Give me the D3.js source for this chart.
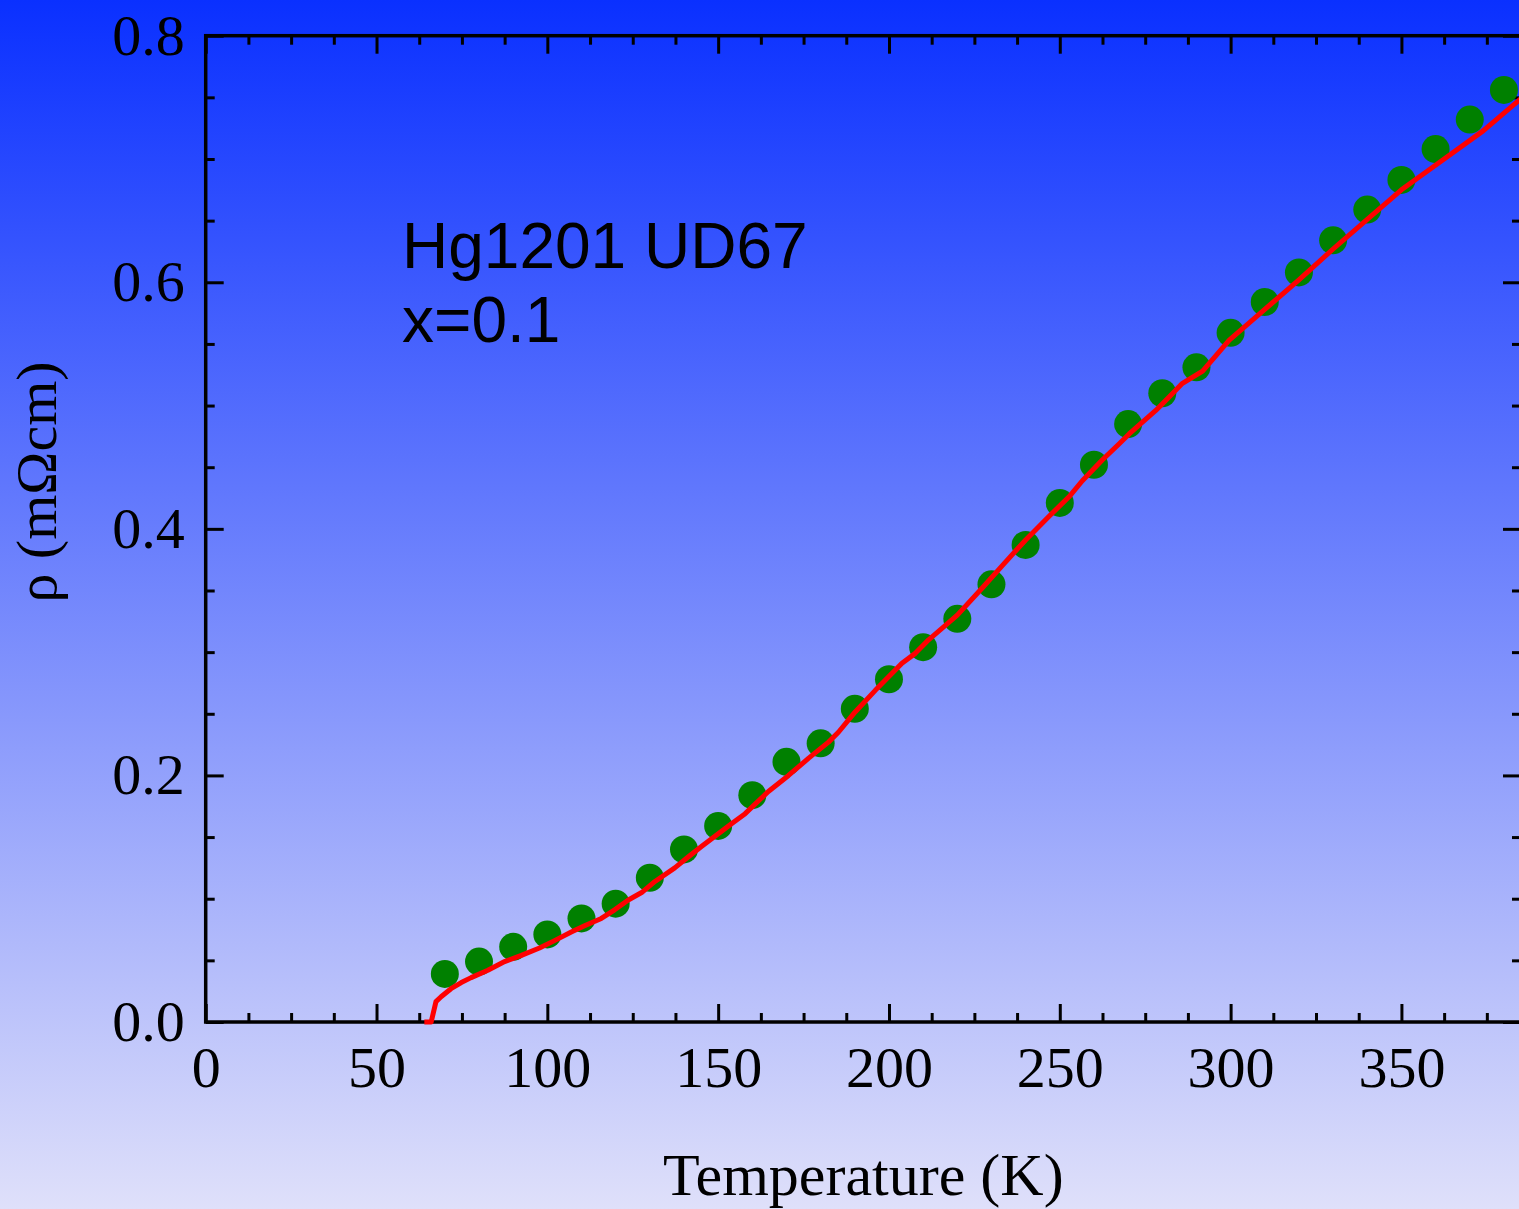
<!DOCTYPE html>
<html>
<head>
<meta charset="utf-8">
<script src="https://cdn.jsdelivr.net/npm/d3@7"></script>
<style>
  html, body { margin: 0; padding: 0; overflow: hidden; }
  svg { display: block; }
</style>
</head>
<body>
<script>
// Measured resistivity points (green markers)
const tempPoints = [70, 80, 90, 100, 110, 120, 130, 140, 150, 160, 170, 180, 190, 200, 210, 220,
  230, 240, 250, 260, 270, 280, 290, 300, 310, 320, 330, 340, 350, 360, 370, 380];
const rhoPoints = [0.039, 0.049, 0.061, 0.071, 0.084, 0.096, 0.117, 0.140, 0.159, 0.184, 0.211, 0.226,
  0.254, 0.278, 0.304, 0.327, 0.355, 0.387, 0.421, 0.452, 0.485, 0.510, 0.531, 0.559, 0.584, 0.608,
  0.634, 0.659, 0.683, 0.708, 0.732, 0.756];

// Continuous resistivity curve (red line)
const tempCurve = [64.0, 66.0, 67.4, 68.9, 71.8, 74.8, 77.7, 82.6, 87.5, 92.4, 97.7, 102.1, 107.0,
  110.9, 115.8, 119.7, 123.7, 127.6, 131.5, 137.3, 141.3, 145.2, 154.0, 157.9, 164.7, 170.6, 176.5,
  182.3, 185.2, 190.1, 196.0, 199.9, 203.8, 207.7, 211.6, 220.0, 227.3, 233.1, 240.0, 246.8, 252.7,
  256.6, 262.5, 267.4, 270.3, 278.1, 282.0, 285.9, 291.8, 299.6, 310, 320, 330, 340, 350, 362, 374, 385];
const rhoCurve = [0, 0, 0.0165, 0.0205, 0.027, 0.032, 0.036, 0.042, 0.049, 0.054, 0.060, 0.066, 0.073,
  0.078, 0.084, 0.091, 0.099, 0.105, 0.114, 0.125, 0.134, 0.1425, 0.161, 0.169, 0.187, 0.200, 0.214,
  0.227, 0.235, 0.2515, 0.269, 0.280, 0.291, 0.299, 0.310, 0.330, 0.352, 0.370, 0.391, 0.410, 0.426,
  0.439, 0.456, 0.469, 0.477, 0.496, 0.507, 0.518, 0.528, 0.553, 0.578, 0.602, 0.627, 0.651, 0.675,
  0.699, 0.723, 0.749];

// Axis ticks
const xMajorTicks = [0, 50, 100, 150, 200, 250, 300, 350];
const yMajorTicks = [0.0, 0.2, 0.4, 0.6, 0.8];

const sampleLines = ["Hg1201 UD67", "x=0.1"];
const xTitle = "Temperature (K)";
const yTitle = "ρ (mΩcm)";

const W = 1519, H = 1209;
const plotLeft = 205.7, plotRight = 1521, plotTop = 35.7, plotBottom = 1022;

const svg = d3.select("body").append("svg").attr("width", W).attr("height", H);

const defs = svg.append("defs");
const grad = defs.append("linearGradient").attr("id", "bg").attr("x1", 0).attr("y1", 0).attr("x2", 0).attr("y2", 1);
grad.append("stop").attr("offset", "0%").attr("stop-color", "#0a30ff");
grad.append("stop").attr("offset", "100%").attr("stop-color", "#dfe0fa");
svg.append("rect").attr("width", W).attr("height", H).attr("fill", "url(#bg)");

const x = d3.scaleLinear().domain([0, 385]).range([plotLeft, plotRight]);
const y = d3.scaleLinear().domain([0, 0.8]).range([plotBottom, plotTop]);

const xMinor = d3.range(0, 385.01, 12.5).filter(v => !xMajorTicks.includes(v));
const yMinor = d3.range(0, 0.8001, 0.05).map(v => +v.toFixed(2)).filter(v => !yMajorTicks.some(t => Math.abs(t - v) < 1e-6));

const serif = "'Liberation Serif', 'Times New Roman', serif";

function styleAxis(g) {
  g.select(".domain").remove();
  g.selectAll(".tick line").attr("stroke", "#000").attr("stroke-width", 3);
}

// Bottom axis: labelled major ticks pointing inward
const gxB = svg.append("g").attr("transform", `translate(0,${plotBottom})`)
  .call(d3.axisBottom(x).tickValues(xMajorTicks).tickSizeInner(-18).tickSizeOuter(0).tickFormat(d3.format("d")));
styleAxis(gxB);
gxB.selectAll(".tick text").attr("font-family", serif).attr("font-size", 58).attr("fill", "#000").attr("y", 24).attr("dy", "0.71em");
svg.append("g").attr("transform", `translate(0,${plotBottom})`)
  .call(d3.axisBottom(x).tickValues(xMinor).tickSize(-9).tickFormat("")).call(styleAxis);

// Top axis
svg.append("g").attr("transform", `translate(0,${plotTop})`)
  .call(d3.axisTop(x).tickValues(xMajorTicks).tickSize(-18).tickFormat("")).call(styleAxis);
svg.append("g").attr("transform", `translate(0,${plotTop})`)
  .call(d3.axisTop(x).tickValues(xMinor).tickSize(-9).tickFormat("")).call(styleAxis);

// Left axis
const gyL = svg.append("g").attr("transform", `translate(${plotLeft},0)`)
  .call(d3.axisLeft(y).tickValues(yMajorTicks).tickSizeInner(-18).tickSizeOuter(0).tickFormat(d3.format(".1f")));
styleAxis(gyL);
gyL.selectAll(".tick text").attr("font-family", serif).attr("font-size", 58).attr("fill", "#000").attr("x", -21);
svg.append("g").attr("transform", `translate(${plotLeft},0)`)
  .call(d3.axisLeft(y).tickValues(yMinor).tickSize(-9).tickFormat("")).call(styleAxis);

// Right axis
svg.append("g").attr("transform", `translate(${plotRight},0)`)
  .call(d3.axisRight(y).tickValues(yMajorTicks).tickSize(-18).tickFormat("")).call(styleAxis);
svg.append("g").attr("transform", `translate(${plotRight},0)`)
  .call(d3.axisRight(y).tickValues(yMinor).tickSize(-9).tickFormat("")).call(styleAxis);

// Frame
svg.append("rect").attr("x", plotLeft).attr("y", plotTop).attr("width", plotRight - plotLeft).attr("height", plotBottom - plotTop)
  .attr("fill", "none").attr("stroke", "#000").attr("stroke-width", 3.5);

// Red curve and green markers
const curve = tempCurve.map((t, i) => [t, rhoCurve[i]]);
const lineGen = d3.line().x(d => x(d[0])).y(d => y(d[1]));

svg.append("g").selectAll("circle").data(tempPoints.map((t, i) => [t, rhoPoints[i]]))
  .join("circle")
  .attr("cx", d => x(d[0])).attr("cy", d => y(d[1])).attr("r", 14)
  .attr("fill", "#008000");

svg.append("path").datum(curve)
  .attr("d", lineGen)
  .attr("fill", "none").attr("stroke", "#ff0000").attr("stroke-width", 5).attr("stroke-linejoin", "round");

// Sample annotation
const ann = svg.append("text").attr("font-family", "'Liberation Sans', Arial, sans-serif")
  .attr("font-size", 64).attr("fill", "#000");
sampleLines.forEach((s, i) => {
  ann.append("tspan").attr("x", 402).attr("y", 268 + i * 73.5).text(s);
});

// Axis titles
svg.append("text").attr("x", (plotLeft + plotRight) / 2).attr("y", 1195)
  .attr("text-anchor", "middle").attr("font-family", serif).attr("font-size", 60).attr("fill", "#000")
  .text(xTitle);
svg.append("text").attr("transform", `translate(56,482) rotate(-90)`)
  .attr("text-anchor", "middle").attr("font-family", serif).attr("font-size", 58).attr("fill", "#000")
  .text(yTitle);
</script>
</body>
</html>
